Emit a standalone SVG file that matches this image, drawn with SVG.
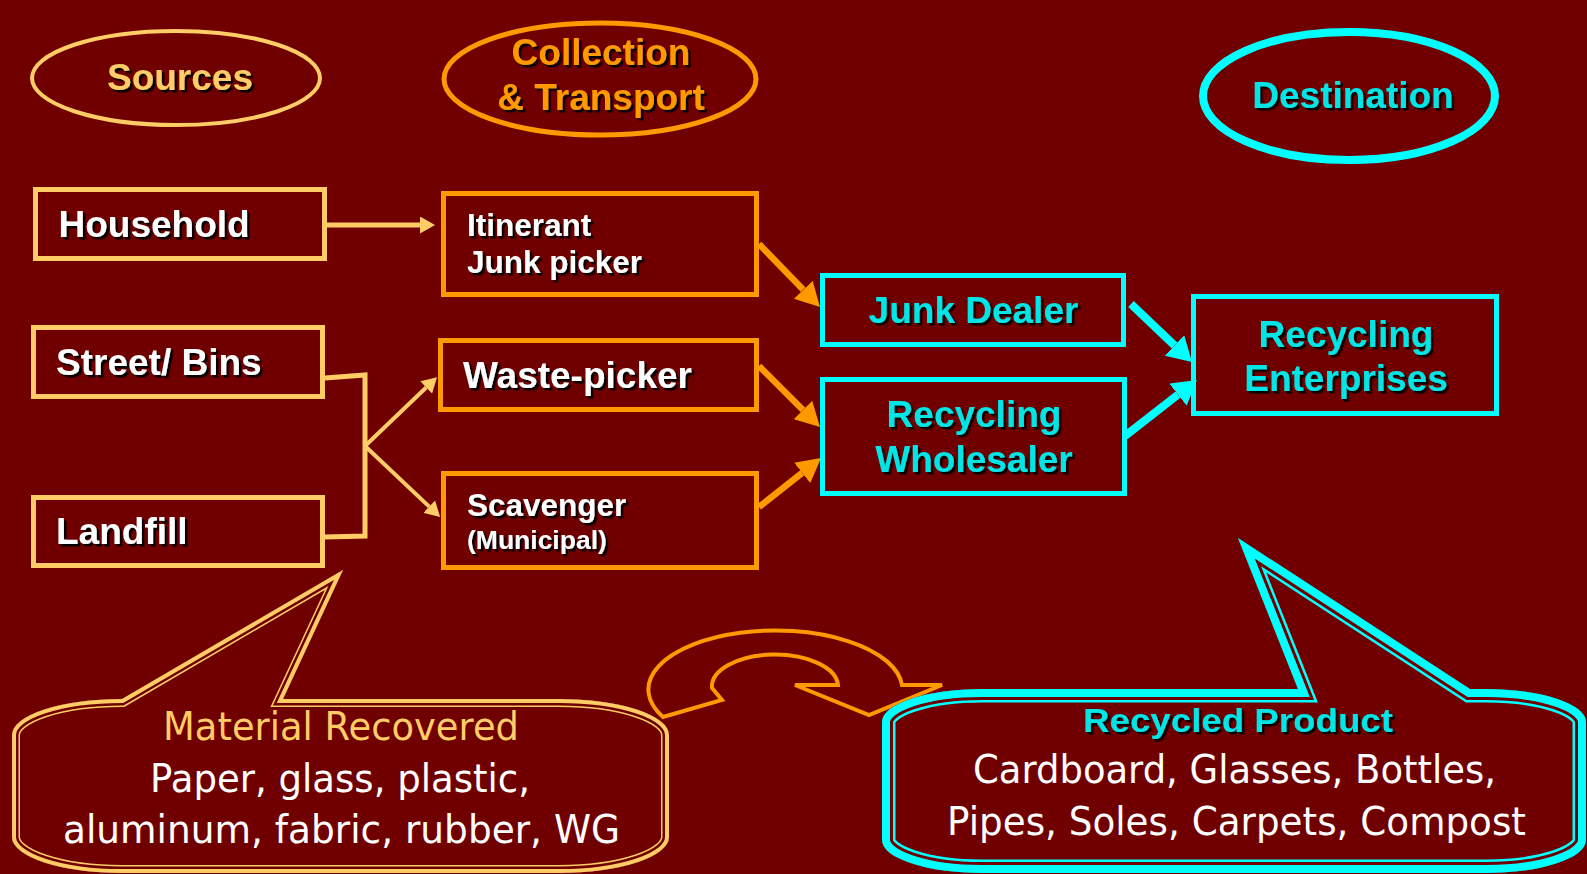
<svg xmlns="http://www.w3.org/2000/svg" xmlns:xlink="http://www.w3.org/1999/xlink" width="1587" height="874" viewBox="0 0 1587 874">
<defs>
<style>
.b{font-family:"Liberation Sans",Arial,sans-serif;font-weight:bold;filter:url(#sh)}
.s36{font-size:37px}
.s31{font-size:31.5px}
.s26{font-size:26.5px}
.w{fill:#FFFFFF}
.tc{fill:#00E6E6}
.tlo{fill:#FFCC66}
.tor{fill:#FF9900}
.p{font-family:"DejaVu Sans","Liberation Sans",sans-serif;font-size:39px}
.box{fill:none;stroke-width:5}
.lo{stroke:#FFCC66}
.or{stroke:#FF9900}
.cy{stroke:#00FFFF}
.ln{fill:none}
</style>
<filter id="sh" x="-10%" y="-20%" width="130%" height="160%">
<feDropShadow dx="2.5" dy="2.5" stdDeviation="0.4" flood-color="#000000" flood-opacity="0.95"/>
</filter>
<marker id="ahLo" markerUnits="userSpaceOnUse" viewBox="0 0 15 17" markerWidth="15" markerHeight="17" refX="0" refY="8.5" orient="auto"><path d="M0,0 L15,8.5 L0,17 z" fill="#FFCC66"/></marker>
<marker id="ahOr" markerUnits="userSpaceOnUse" viewBox="0 0 24 26" markerWidth="24" markerHeight="26" refX="0" refY="13" orient="auto"><path d="M0,0 L24,13 L0,26 z" fill="#FF9900"/></marker>
<marker id="ahCy" markerUnits="userSpaceOnUse" viewBox="0 0 24 28" markerWidth="24" markerHeight="28" refX="0" refY="14" orient="auto"><path d="M0,0 L24,14 L0,28 z" fill="#00FFFF"/></marker>
<path id="pL" d="M122,699 L343,570 L283,699 L559,699 A110,36 0 0 1 669,735 L669,837 A110,36 0 0 1 559,873 L122,873 A110,36 0 0 1 12,837 L12,735 A110,36 0 0 1 122,699 Z"/>
<path id="pR" d="M982,689 L1298,689 L1238,538 L1470,689 L1486,689 A100,33 0 0 1 1586,722 L1586,840 A100,33 0 0 1 1486,873 L982,873 A100,33 0 0 1 882,840 L882,722 A100,33 0 0 1 982,689 Z"/>
<clipPath id="cL"><use xlink:href="#pL"/></clipPath>
<clipPath id="cR"><use xlink:href="#pR"/></clipPath>
</defs>
<rect x="0" y="0" width="1587" height="874" fill="#700000"/>

<g id="header-sources">
<ellipse cx="176" cy="78" rx="144" ry="47" fill="none" stroke="#FFCC66" stroke-width="4"/>
<text class="b s36 tlo" x="180" y="90" text-anchor="middle">Sources</text>
</g>
<g id="header-collection">
<ellipse cx="600" cy="79" rx="156" ry="56" fill="none" stroke="#FF9900" stroke-width="5"/>
<text class="b s36 tor" x="601" y="65" text-anchor="middle">Collection</text>
<text class="b s36 tor" x="601" y="110" text-anchor="middle">&amp; Transport</text>
</g>
<g id="header-destination">
<ellipse cx="1349" cy="96" rx="146" ry="64" fill="none" stroke="#00FFFF" stroke-width="8"/>
<text class="b s36 tc" x="1353" y="108" text-anchor="middle">Destination</text>
</g>

<g id="connectors">
<line class="lo" x1="327" y1="225" x2="420" y2="225" stroke-width="5" marker-end="url(#ahLo)"/>
<polyline class="lo ln" points="325,378 365,375 365,536 325,537" stroke-width="5"/>
<line class="lo" x1="365" y1="446" x2="426.2" y2="387.5" stroke-width="4" marker-end="url(#ahLo)"/>
<line class="lo" x1="365" y1="446" x2="429.2" y2="506.6" stroke-width="4" marker-end="url(#ahLo)"/>
<line class="or" x1="759" y1="244" x2="803.3" y2="289.8" stroke-width="6.5" marker-end="url(#ahOr)"/>
<line class="or" x1="759" y1="366" x2="803" y2="410" stroke-width="6.5" marker-end="url(#ahOr)"/>
<line class="or" x1="759" y1="507" x2="802.2" y2="472.9" stroke-width="6.5" marker-end="url(#ahOr)"/>
<line class="cy" x1="1131" y1="304" x2="1174.6" y2="345.5" stroke-width="8" marker-end="url(#ahCy)"/>
<line class="cy" x1="1125" y1="436" x2="1178" y2="394.7" stroke-width="8" marker-end="url(#ahCy)"/>
<path id="curved-arrow" d="M663,717 A127,59 0 1 1 902,685 L942,685 L869,715 L795,685 L838,685 A63,32 0 0 0 712,688 L722,700 Z" fill="none" stroke="#FF9900" stroke-width="4" stroke-linejoin="miter"/>
</g>

<g id="household">
<rect class="box lo" x="35.5" y="189.5" width="289" height="69"/>
<text class="b s36 w" x="58.5" y="237">Household</text>
</g>
<g id="itinerant">
<rect class="box or" x="443.5" y="193.5" width="313" height="101"/>
<text class="b s31 w" x="467" y="236">Itinerant</text>
<text class="b s31 w" x="467" y="273">Junk picker</text>
</g>
<g id="street-bins">
<rect class="box lo" x="33.5" y="327.5" width="289" height="69"/>
<text class="b s36 w" x="56" y="375">Street/ Bins</text>
</g>
<g id="landfill">
<rect class="box lo" x="33.5" y="497.5" width="289" height="68"/>
<text class="b s36 w" x="56" y="544">Landfill</text>
</g>
<g id="waste-picker">
<rect class="box or" x="440.5" y="340.5" width="316" height="69"/>
<text class="b s36 w" x="463" y="388">Waste-picker</text>
</g>
<g id="scavenger">
<rect class="box or" x="443.5" y="473.5" width="313" height="94"/>
<text class="b s31 w" x="467" y="516">Scavenger</text>
<text class="b s26 w" x="467" y="549">(Municipal)</text>
</g>
<g id="junk-dealer">
<rect class="box cy" x="822.5" y="275.5" width="301" height="69"/>
<text class="b s36 tc" x="973.5" y="323" text-anchor="middle">Junk Dealer</text>
</g>
<g id="recycling-wholesaler">
<rect class="box cy" x="822.5" y="379.5" width="302" height="114"/>
<text class="b s36 tc" x="974" y="427" text-anchor="middle">Recycling</text>
<text class="b s36 tc" x="974" y="472" text-anchor="middle">Wholesaler</text>
</g>
<g id="recycling-enterprises">
<rect class="box cy" x="1193.5" y="296.5" width="303" height="117"/>
<text class="b s36 tc" x="1346" y="347" text-anchor="middle">Recycling</text>
<text class="b s36 tc" x="1346" y="391" text-anchor="middle">Enterprises</text>
</g>

<g id="callout-material">
<use xlink:href="#pL" fill="#700000"/>
<g clip-path="url(#cL)">
<use xlink:href="#pL" fill="none" stroke="#FFCC66" stroke-width="16" stroke-miterlimit="10"/>
<use xlink:href="#pL" fill="none" stroke="#700000" stroke-width="13" stroke-miterlimit="10"/>
<use xlink:href="#pL" fill="none" stroke="#FFCC66" stroke-width="8" stroke-miterlimit="10"/>
</g>
<text class="p tlo" x="163" y="740" textLength="356" lengthAdjust="spacingAndGlyphs">Material Recovered</text>
<text class="p w" x="150" y="792" textLength="380" lengthAdjust="spacingAndGlyphs">Paper, glass, plastic,</text>
<text class="p w" x="63" y="843" textLength="557" lengthAdjust="spacingAndGlyphs">aluminum, fabric, rubber, WG</text>
</g>

<g id="callout-product">
<use xlink:href="#pR" fill="#700000"/>
<g clip-path="url(#cR)">
<use xlink:href="#pR" fill="none" stroke="#00FFFF" stroke-width="27" stroke-miterlimit="10"/>
<use xlink:href="#pR" fill="none" stroke="#700000" stroke-width="22" stroke-miterlimit="10"/>
<use xlink:href="#pR" fill="none" stroke="#00FFFF" stroke-width="16" stroke-miterlimit="10"/>
</g>
<text class="b tc" style="font-size:34px" x="1083" y="732" textLength="310" lengthAdjust="spacingAndGlyphs">Recycled Product</text>
<text class="p w" x="973" y="783" textLength="523" lengthAdjust="spacingAndGlyphs">Cardboard, Glasses, Bottles,</text>
<text class="p w" x="947" y="835" textLength="579" lengthAdjust="spacingAndGlyphs">Pipes, Soles, Carpets, Compost</text>
</g>
</svg>
